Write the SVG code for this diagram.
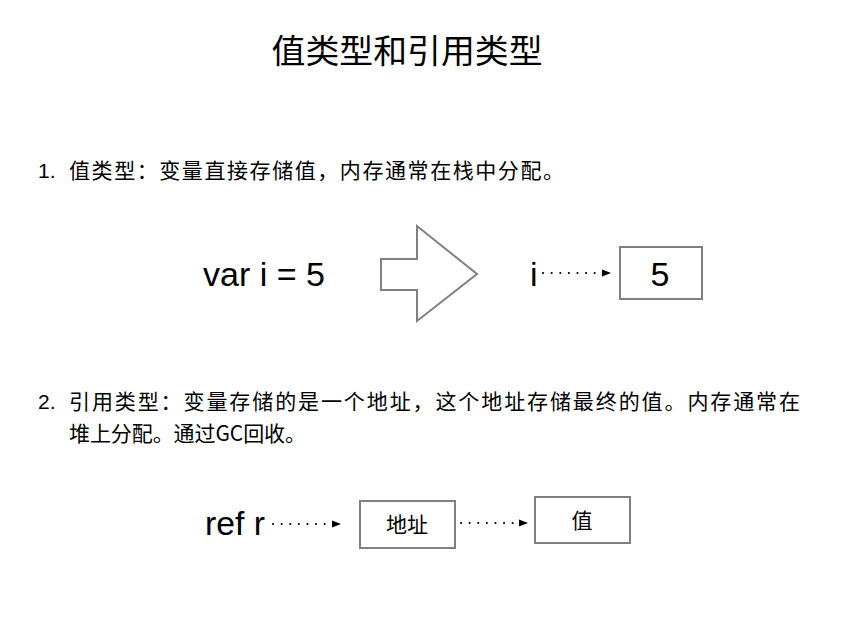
<svg xmlns="http://www.w3.org/2000/svg" width="866" height="623" viewBox="0 0 866 623">
<defs>
<marker id="ah" viewBox="0 0 10 10" refX="10" refY="5" markerWidth="9" markerHeight="9" markerUnits="userSpaceOnUse" orient="auto">
<path d="M0,1 L10,5 L0,9 Z" fill="#000"/>
</marker>
</defs>
<style>
.cjk{font-family:"Noto Sans CJK SC","Liberation Sans",sans-serif;fill:#000}
.lat{font-family:"Liberation Sans",Arial,sans-serif;fill:#000}
.box{fill:#fff;stroke:#808080;stroke-width:2}
.dot{stroke:#000;stroke-width:2;stroke-linecap:round;stroke-dasharray:0.1 8.5;fill:none}
</style>
<rect width="866" height="623" fill="#fff"/>
<g id="title"><text class="cjk" x="407" y="63" font-size="33" text-anchor="middle" textLength="271" lengthAdjust="spacingAndGlyphs">值类型和引用类型</text></g>
<g id="item1">
<text class="lat" x="38" y="178" font-size="21">1.</text>
<text class="cjk" x="69" y="178" font-size="21" textLength="495" lengthAdjust="spacing">值类型：变量直接存储值，内存通常在栈中分配。</text>
</g>
<g id="item2">
<text class="lat" x="38" y="409" font-size="21">2.</text>
<text class="cjk" x="69" y="409" font-size="21" textLength="731" lengthAdjust="spacing">引用类型：变量存储的是一个地址，这个地址存储最终的值。内存通常在</text>
<text class="cjk" x="69" y="441" font-size="21" textLength="237" lengthAdjust="spacing">堆上分配。通过GC回收。</text>
</g>
<g id="var"><text class="lat" x="203" y="286" font-size="34" textLength="122" lengthAdjust="spacingAndGlyphs">var i = 5</text></g>
<g id="bigarrow"><polygon points="381,259 417,259 417,226 477,274 417,321 417,290 381,290" fill="#fff" stroke="#808080" stroke-width="2"/></g>
<g id="i"><text class="lat" x="530" y="286" font-size="34">i</text></g>
<g id="box5"><rect class="box" x="620" y="247" width="82" height="52"/><text class="lat" x="660" y="286" font-size="34" text-anchor="middle">5</text></g>
<g id="refr"><text class="lat" x="205" y="535" font-size="34" textLength="60" lengthAdjust="spacingAndGlyphs">ref r</text></g>
<g id="addr"><rect class="box" x="360" y="501" width="95" height="47"/><text class="cjk" x="407" y="532" font-size="21" text-anchor="middle">地址</text></g>
<g id="val"><rect class="box" x="535" y="497" width="95" height="46"/><text class="cjk" x="582" y="528" font-size="21" text-anchor="middle">值</text></g>
<g id="connectors">
<line class="dot" x1="543" y1="273" x2="611" y2="273" marker-end="url(#ah)"/>
<line class="dot" x1="273" y1="524" x2="341" y2="524" marker-end="url(#ah)"/>
<line class="dot" x1="461" y1="523" x2="528" y2="523" marker-end="url(#ah)"/>
</g>
</svg>
